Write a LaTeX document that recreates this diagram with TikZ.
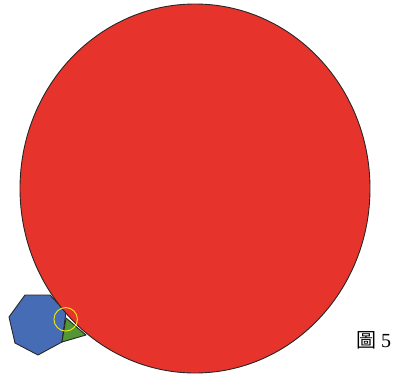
\documentclass[tikz,border=0pt]{standalone}
\usepackage{fontspec}
\setmainfont{Liberation Serif}
\newfontfamily\cjk{Noto Sans CJK TC}
\definecolor{redfill}{RGB}{230,52,44}
\definecolor{bluefill}{RGB}{70,108,182}
\definecolor{greenfill}{RGB}{82,150,54}
\definecolor{yel}{RGB}{240,235,20}
\tikzset{figshape/.style={draw=black!85, line width=0.9pt, line join=round}}
\begin{document}
\begin{tikzpicture}[x=1pt,y=-1pt]
\useasboundingbox (0,0) rectangle (413,378);
\path[figshape, fill=bluefill] (25,295) -- (50,295) -- (66,312) -- (62,342) -- (38,355) -- (15,343) -- (9,317) -- cycle;
\path[figshape, fill=greenfill] (66,318) -- (62,342) -- (86,335) -- cycle;
\path[figshape, fill=redfill] (195,188.5) ellipse [x radius=175, y radius=184.5];
\node[draw=yel, line width=0.9pt, circle, minimum size=23.5pt, inner sep=0pt] (y) at (65.7,319.3) {};
\node[anchor=west, inner sep=0pt, font=\fontsize{20}{20}\selectfont] (lab) at (356,340) {{\cjk 圖} 5};
\end{tikzpicture}
\end{document}
